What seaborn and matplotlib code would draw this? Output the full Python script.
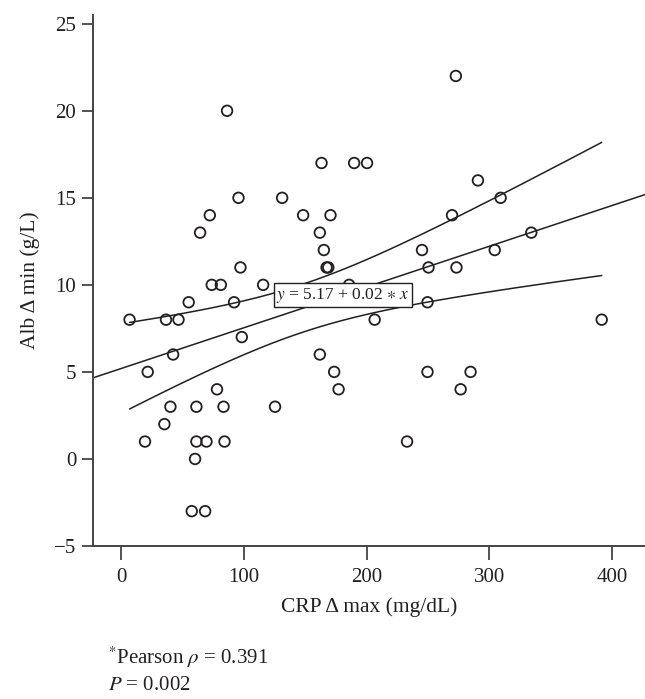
import numpy as np
import pandas as pd
import matplotlib
matplotlib.use("Agg")
import matplotlib.pyplot as plt
import seaborn as sns

# CRP delta max (mg/dL) and Alb delta min (g/L)
crp = [6.8, 36.5, 46.7, 55, 64.3, 72.2, 86.3, 95.6, 97.2, 73.8, 81.2, 92, 98.3,
       42.3, 115.7, 131.2, 148.3, 163.3, 161.9, 170.6, 165.2, 167.4, 168.8, 185.8,
       189.9, 200.4, 161.9,
       21.6, 173.6, 177.2, 78.1, 40.1, 61.3, 83.4, 125.4, 35.2, 19.4, 61.3, 69.5,
       84.2, 60.2, 57.5, 68.4,
       272.8, 290.8, 309.3, 269.7, 334.3, 245.2, 304.5, 250.5, 273.3, 249.7, 206.6,
       391.7, 249.7, 284.8, 276.7, 233.0]
alb = [8, 8, 8, 9, 13, 14, 20, 15, 11, 10, 10, 9, 7,
       6, 10, 15, 14, 17, 13, 14, 12, 11, 11, 10,
       17, 17, 6,
       5, 5, 4, 4, 3, 3, 3, 3, 2, 1, 1, 1,
       1, 0, -3, -3,
       22, 16, 15, 14, 13, 12, 12, 11, 11, 9, 8,
       8, 5, 5, 4, 1]

x_ticks = [0, 100, 200, 300, 400]
y_ticks = [-5, 0, 5, 10, 15, 20, 25]
eq_label = "$y$ = 5.17 + 0.02 $\\ast$ $x$"
note_1 = "$^{*}$Pearson $\\rho$ = 0.391"
note_2 = "$P$ = 0.002"

df = pd.DataFrame({"crp": crp, "alb": alb})

sns.set_theme(style="ticks")
plt.rcParams["font.family"] = ["Liberation Serif", "DejaVu Serif"]
plt.rcParams["mathtext.fontset"] = "stix"

ink = "#231f20"
fig = plt.figure(figsize=(6.45, 6.99), dpi=100)
ax = fig.add_axes([0.1442, 0.2189, 0.8558, 0.7596])
ax.set_xlim(-23, 427)
ax.set_ylim(-5, 25.5)

# fitted line over the whole axis
sns.regplot(data=df, x="crp", y="alb", scatter=False, ci=None, truncate=False,
            line_kws={"color": ink, "lw": 1.1}, ax=ax)

# 95% confidence band of the mean, drawn as two lines over the data range
xv = df["crp"].to_numpy()
yv = df["alb"].to_numpy()
n = len(xv)
b, a = np.polyfit(xv, yv, 1)
resid = yv - (a + b * xv)
s = np.sqrt(np.sum(resid ** 2) / (n - 2))
grid = np.linspace(xv.min(), xv.max(), 200)
se = s * np.sqrt(1 / n + (grid - xv.mean()) ** 2 / np.sum((xv - xv.mean()) ** 2))
t = 2.002
ax.plot(grid, a + b * grid + t * se, color=ink, lw=1.1)
ax.plot(grid, a + b * grid - t * se, color=ink, lw=1.1)

sns.scatterplot(data=df, x="crp", y="alb", s=58, facecolor="none",
                edgecolor=ink, linewidth=1.3, ax=ax, zorder=3)

ax.text(180.7, 9.4, eq_label, fontsize=12.5, color=ink, ha="center", va="center",
        zorder=4, bbox=dict(boxstyle="square,pad=0.15", fc="white", ec=ink, lw=1))

ax.set_xticks(x_ticks)
ax.set_yticks(y_ticks)
ax.set_yticklabels([str(v).replace("-", "\u2212") for v in y_ticks])
ax.tick_params(axis="x", length=10, width=1.3, color="#444444", labelsize=15,
               labelcolor=ink, pad=6)
ax.tick_params(axis="y", length=8, width=1.3, color="#444444", labelsize=15,
               labelcolor=ink, pad=4)
for side in ["left", "bottom"]:
    ax.spines[side].set_linewidth(1.4)
    ax.spines[side].set_color("#444444")
sns.despine(ax=ax)

ax.set_xlabel("CRP Δ max (mg/dL)", fontsize=15.5, color=ink, labelpad=7)
ax.set_ylabel("Alb Δ min (g/L)", fontsize=15.5, color=ink, labelpad=10)

fig.text(108 / 645, 1 - 657 / 699, note_1, fontsize=15, color=ink, va="center")
fig.text(108 / 645, 1 - 685 / 699, note_2, fontsize=15, color=ink, va="center")

fig.savefig("out.png", dpi=100)
